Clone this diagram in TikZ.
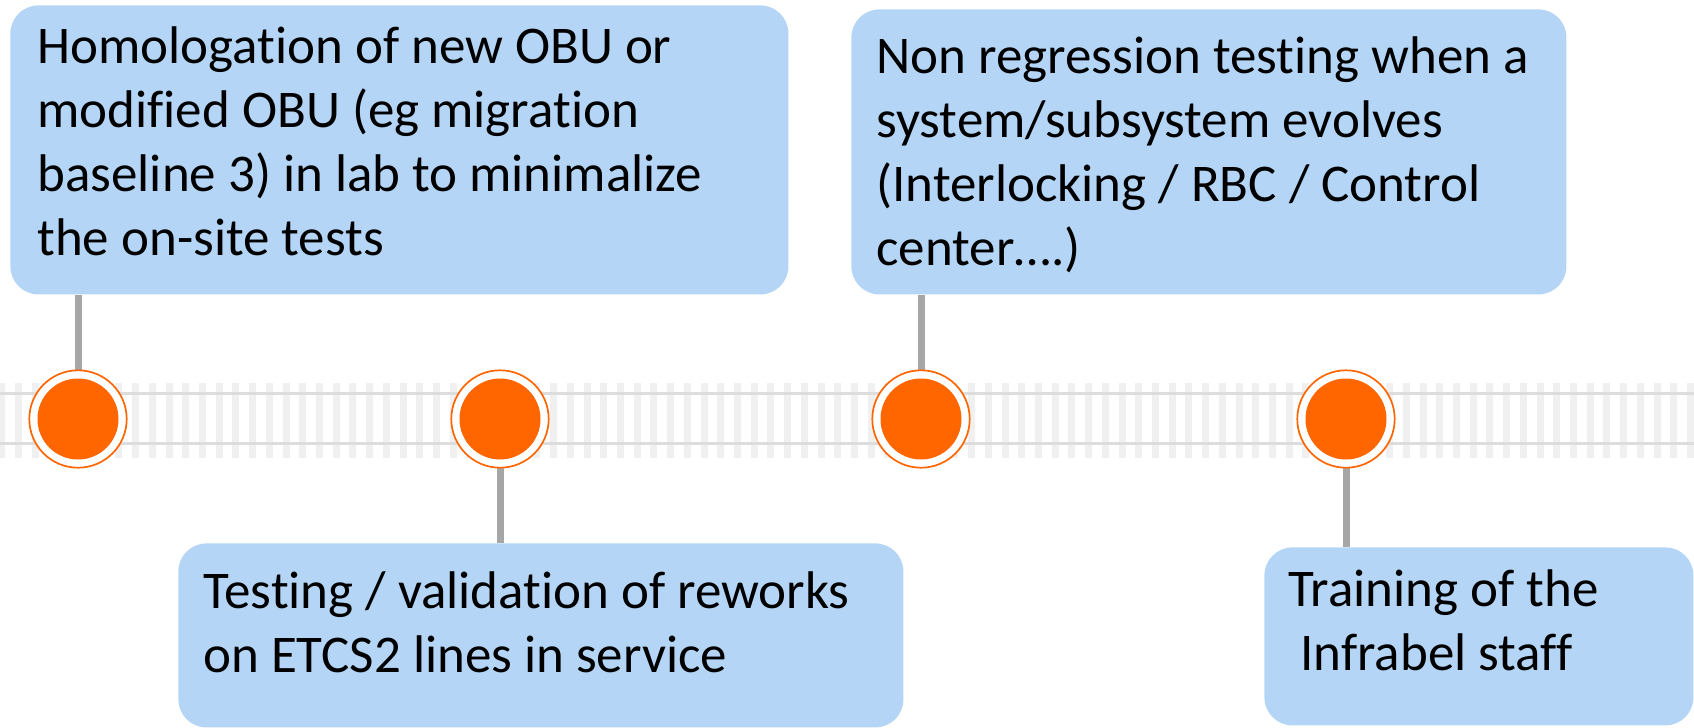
\documentclass[tikz,border=0pt]{standalone}
\usepackage{fontspec}
\setmainfont{Carlito}[Ligatures=NoCommon]
\usepackage{tikz}
\usetikzlibrary{calc}
\definecolor{cardblue}{RGB}{180,213,245}
\definecolor{stoporange}{RGB}{255,102,0}
\definecolor{stemgray}{RGB}{166,166,166}
\definecolor{tiegray}{RGB}{240,240,240}
\definecolor{railgray}{RGB}{221,221,221}
\tikzset{card/.style={fill=cardblue, rounded corners=14pt, inner sep=0pt, anchor=north west}}
\tikzset{txt/.style={font=\fontsize{26.5}{32}\selectfont, align=left, inner sep=0pt, anchor=north west}}
\tikzset{stop/.style={circle, draw=stoporange, line width=0.85pt, fill=white, minimum size=48.7pt, inner sep=0pt,
    path picture={\fill[stoporange] (path picture bounding box.center) circle (20.25pt);}}}
\tikzset{stem/.style={draw=stemgray, line width=3.5pt}}
\tikzset{tie/.style={fill=tiegray}}
\tikzset{rail/.style={draw=railgray, line width=1.75pt}}

\begin{document}
\begin{tikzpicture}[x=0.5pt,y=-0.5pt]
  \useasboundingbox (0,0) rectangle (1694,728);
  % track
  \foreach \k in {0,...,101}
    \fill[tie] ({-1.7+\k*16.72},383) rectangle ++(7,75);
  \draw[rail] (0,393.5) -- (1694,393.5);
  \draw[rail] (0,443.5) -- (1694,443.5);
  % cards
  \node[card, minimum width=389pt, minimum height=144.5pt] (h1) at (10,5) {};
  \node[txt] (h1t) at (37,18.5) {\strut Homologation of new OBU or\\
    modified OBU (eg migration\\ baseline 3) in lab to minimalize\\ the on-site tests};
  \node[card, minimum width=362.5pt, minimum height=92pt] (h2) at (178,543) {};
  \node[txt] (h2t) at (203,563.5) {\strut Testing / validation of reworks\\ on ETCS2 lines in service};
  \node[card, minimum width=357.5pt, minimum height=142.5pt] (h3) at (851,9) {};
  \node[txt] (h3t) at (876,28) {\strut Non regression testing when a\\ system/subsystem evolves\\
    (Interlocking / RBC / Control\\ center….)};
  \node[card, minimum width=214.5pt, minimum height=89pt] (h4) at (1264,547) {};
  \node[txt] (h4t) at (1288,561.2) {\strut Training of the\\ \ Infrabel staff};
  % stops
  \coordinate (p1) at (78,419);
  \coordinate (p2) at (500,419);
  \coordinate (p3) at (921,419);
  \coordinate (p4) at (1346,419);
  \draw[stem] (p1) -- (p1 |- h1.south);
  \draw[stem] (p2) -- (p2 |- h2.north);
  \draw[stem] (p3) -- (p3 |- h3.south);
  \draw[stem] (p4) -- (p4 |- h4.north);
  \foreach \p in {1,...,4}
    \node[stop] (s\p) at (p\p) {};
\end{tikzpicture}
\end{document}
